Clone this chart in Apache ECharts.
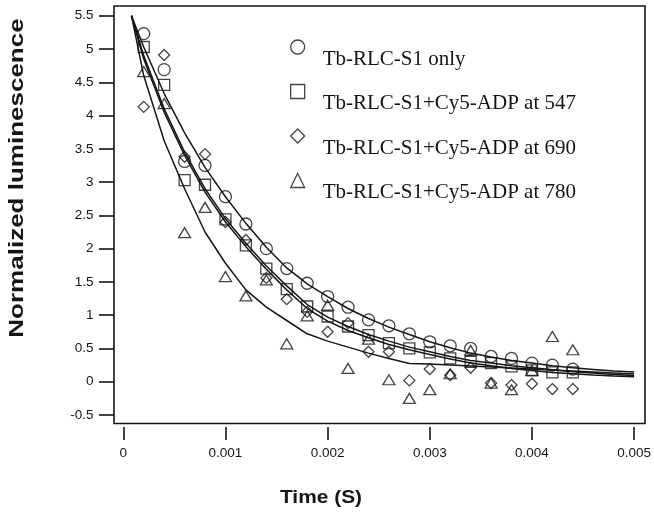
<!DOCTYPE html>
<html><head><meta charset="utf-8">
<script src="https://cdn.jsdelivr.net/npm/echarts@6/dist/echarts.min.js"></script>
<style>html,body{margin:0;padding:0;background:#fff}#c{width:654px;height:515px}</style>
</head><body><div id="c"></div>
<script>
// sample times (s)
const times = [0.0002,0.0004,0.0006,0.0008,0.0010,0.0012,0.0014,0.0016,0.0018,0.0020,0.0022,0.0024,0.0026,0.0028,0.0030,0.0032,0.0034,0.0036,0.0038,0.0040,0.0042,0.0044];
const onlyS1   = [5.23,4.69,3.31,3.25,2.78,2.37,2.00,1.70,1.48,1.28,1.12,0.93,0.84,0.72,0.60,0.54,0.50,0.38,0.35,0.28,0.25,0.19];
const at547    = [5.03,4.46,3.03,2.96,2.44,2.05,1.70,1.39,1.13,0.98,0.83,0.70,0.58,0.50,0.44,0.35,0.30,0.28,0.23,0.17,0.14,0.14];
const at690    = [4.13,4.91,3.38,3.42,2.40,2.13,1.56,1.24,1.05,0.75,0.88,0.45,0.45,0.02,0.19,0.10,0.21,-0.02,-0.05,-0.03,-0.11,-0.11];
const at780    = [4.66,4.18,2.24,2.62,1.58,1.29,1.53,0.57,0.99,1.15,0.20,0.64,0.03,-0.25,-0.12,0.12,0.47,-0.02,-0.12,0.17,0.68,0.48];
// fitted curves
const fitTimes = [0.00008,0.0002,0.0004,0.0006,0.0008,0.0010,0.0012,0.0014,0.0016,0.0018,0.0020,0.0022,0.0024,0.0026,0.0028,0.0030,0.0032,0.0034,0.0036,0.0038,0.0040,0.0042,0.0044,0.0046,0.0048,0.0050];
const fitS1  = [5.5,5.03,4.33,3.74,3.22,2.78,2.38,2.02,1.71,1.47,1.28,1.10,0.95,0.82,0.71,0.60,0.51,0.43,0.37,0.32,0.28,0.24,0.21,0.185,0.16,0.145];
const fit547 = [5.5,4.9,4.1,3.45,2.9,2.45,2.08,1.74,1.44,1.16,0.97,0.83,0.71,0.61,0.52,0.45,0.38,0.32,0.28,0.24,0.21,0.18,0.15,0.13,0.11,0.095];
const fit690 = [5.5,4.85,4.05,3.4,2.85,2.40,2.03,1.69,1.38,1.10,0.91,0.77,0.66,0.56,0.48,0.41,0.34,0.28,0.24,0.20,0.17,0.14,0.12,0.10,0.085,0.075];
const fit780 = [5.5,4.6,3.62,2.9,2.25,1.78,1.38,1.12,0.92,0.72,0.61,0.52,0.43,0.35,0.275,0.265,0.25,0.235,0.22,0.205,0.19,0.175,0.16,0.145,0.13,0.115];
const names = ['Tb-RLC-S1 only','Tb-RLC-S1+Cy5-ADP at 547','Tb-RLC-S1+Cy5-ADP at 690','Tb-RLC-S1+Cy5-ADP at 780'];
const xTicks = {min:0, max:0.005, interval:0.001};
const yTicks = {min:-0.5, max:5.5, interval:0.5};

const ink = '#151515';
const pts = [onlyS1, at547, at690, at780];
const fits = [fitS1, fit547, fit690, fit780];
const symbols = ['circle','rect','diamond','triangle'];
const sizes = [12, 11, [11,11], [12,10]];

const series = [];
fits.forEach((f, i) => {
  series.push({
    name: 'fit' + i, type: 'line', xAxisIndex: 0, yAxisIndex: 0,
    data: fitTimes.map((t, k) => [t, f[k]]),
    symbol: 'none', showSymbol: false, silent: true, z: 2,
    lineStyle: {color: ink, width: 1.5}
  });
});
pts.forEach((p, i) => {
  series.push({
    name: names[i], type: 'scatter', xAxisIndex: 0, yAxisIndex: 0,
    data: times.map((t, k) => [t, p[k]]),
    symbol: symbols[i], symbolSize: sizes[i], z: 3,
    itemStyle: {color: 'rgba(0,0,0,0)', borderColor: ink, borderWidth: 1.3},
    emphasis: {disabled: true}
  });
});

const chart = echarts.init(document.getElementById('c'), null, {renderer: 'canvas'});
chart.setOption({
  animation: false,
  backgroundColor: '#fff',
  grid: [
    {left: 123.3, right: 18.3, top: 15.7, bottom: 100, containLabel: false},
    {left: 114, right: 9, top: 6, bottom: 91.5, show: true, borderColor: ink, borderWidth: 1.6, backgroundColor: 'rgba(0,0,0,0)', z: 1}
  ],
  xAxis: [
    {gridIndex: 0, type: 'value', min: xTicks.min, max: xTicks.max, interval: xTicks.interval, offset: 12, position: 'bottom',
     axisLine: {show: false, onZero: false}, splitLine: {show: false},
     axisTick: {show: true, inside: false, length: 13, lineStyle: {color: ink, width: 1.6}},
     axisLabel: {margin: 19, color: ink, fontSize: 13.5, fontFamily: 'Liberation Sans'}},
    {gridIndex: 1, type: 'value', show: false}
  ],
  yAxis: [
    {gridIndex: 0, type: 'value', min: yTicks.min, max: yTicks.max, interval: yTicks.interval, offset: 9.3, position: 'left',
     axisLine: {show: false, onZero: false}, splitLine: {show: false},
     axisTick: {show: true, inside: false, length: 15, lineStyle: {color: ink, width: 1.6}},
     axisLabel: {margin: 20.5, color: ink, fontSize: 13.5, fontFamily: 'Liberation Sans'}},
    {gridIndex: 1, type: 'value', show: false}
  ],
  legend: {
    data: names, orient: 'vertical', left: 290, top: 23, padding: 0, itemGap: -3.5,
    itemWidth: 14, itemHeight: 14, selectedMode: false,
    formatter: function (n) { return '\n' + n; },
    itemStyle: {color: 'rgba(0,0,0,0)', borderColor: ink, borderWidth: 1.3},
    textStyle: {fontFamily: 'Liberation Serif', fontSize: 21, lineHeight: 24, color: ink, padding: [0, 0, 0, 13]}
  },
  graphic: [
    {type: 'text', x: 17, y: 178, rotation: Math.PI / 2, scaleX: 1.3,
     style: {text: 'Normalized luminescence', font: 'bold 20px "Liberation Sans"', fill: ink,
             align: 'center', verticalAlign: 'middle', textAlign: 'center', textVerticalAlign: 'middle'}},
    {type: 'text', x: 321, y: 498, scaleX: 1.1,
     style: {text: 'Time (S)', font: 'bold 19px "Liberation Sans"', fill: ink,
             align: 'center', verticalAlign: 'middle', textAlign: 'center', textVerticalAlign: 'middle'}}
  ],
  series: series
});
</script>
</body></html>
